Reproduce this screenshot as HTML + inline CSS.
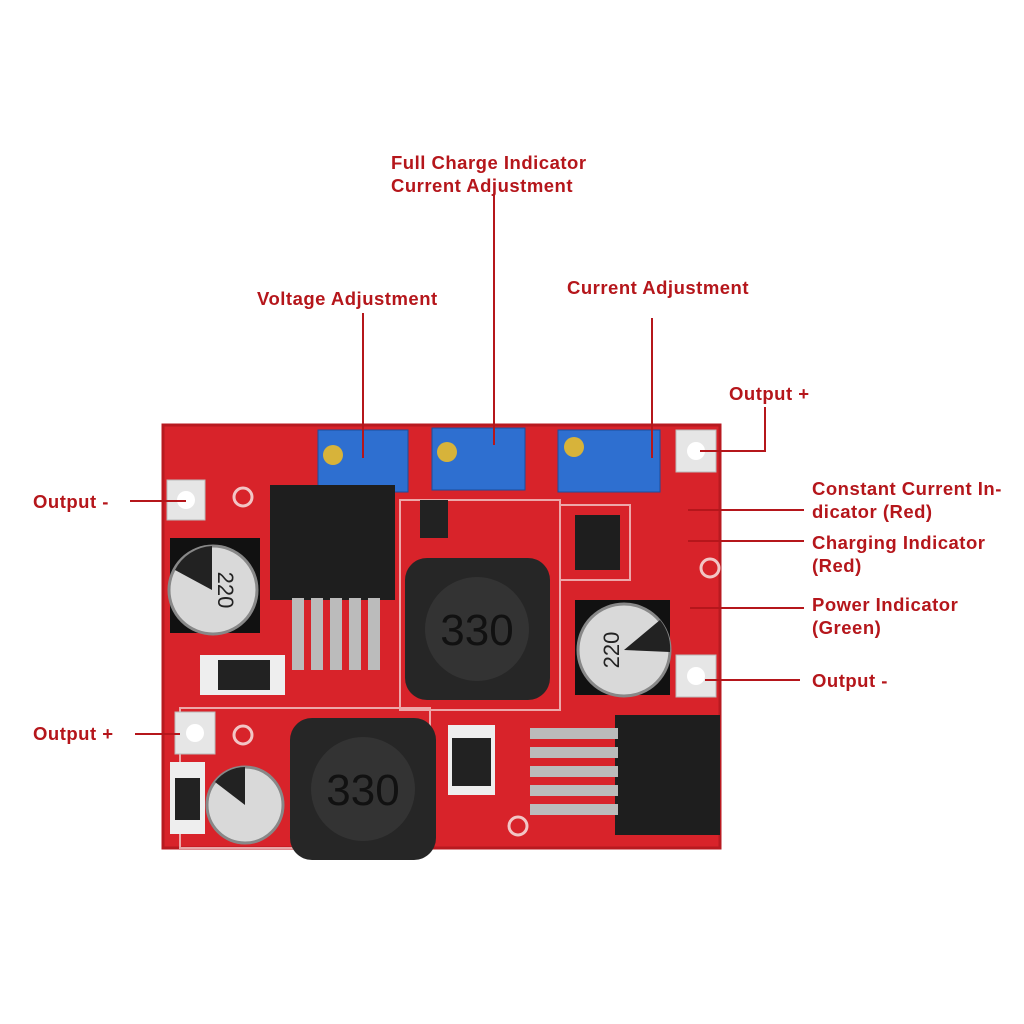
<!DOCTYPE html>
<html><head><style>
body{margin:0;width:1024px;height:1024px;background:#fff;position:relative;overflow:hidden;font-family:"Liberation Sans",sans-serif}
.l{position:absolute;color:#b5161b;font-weight:bold;font-size:18.5px;letter-spacing:0.5px;line-height:23px;white-space:nowrap}
.a{position:absolute}
</style></head><body>
<svg class="a" style="left:0;top:0" width="1024" height="1024">
<rect x="163" y="425" width="557" height="423" fill="#d8232a"/>
<rect x="163" y="425" width="557" height="423" fill="none" stroke="#b81a20" stroke-width="3"/>
<g stroke="#f3c9c9" stroke-width="2" fill="none" opacity="0.8">
<rect x="180" y="708" width="250" height="140"/>
<rect x="400" y="500" width="160" height="210"/>
<rect x="560" y="505" width="70" height="75"/>
</g>
<g fill="#e6e6e6" stroke="#bbb"><rect x="167" y="480" width="38" height="40"/><rect x="676" y="430" width="40" height="42"/><rect x="676" y="655" width="40" height="42"/><rect x="175" y="712" width="40" height="42"/></g>
<g fill="#fff"><circle cx="186" cy="500" r="9"/><circle cx="696" cy="451" r="9"/><circle cx="696" cy="676" r="9"/><circle cx="195" cy="733" r="9"/></g>
<g fill="none" stroke="#f2c5c5" stroke-width="3"><circle cx="243" cy="497" r="9"/><circle cx="710" cy="568" r="9"/><circle cx="518" cy="826" r="9"/><circle cx="243" cy="735" r="9"/></g>
<g fill="#2e6fd0" stroke="#1c4c9c"><rect x="318" y="430" width="90" height="62"/><rect x="432" y="428" width="93" height="62"/><rect x="558" y="430" width="102" height="62"/></g>
<g fill="#d7b33a"><circle cx="333" cy="455" r="10"/><circle cx="447" cy="452" r="10"/><circle cx="574" cy="447" r="10"/></g>
<rect x="270" y="485" width="125" height="115" fill="#1e1e1e"/>
<g fill="#bbb"><rect x="292" y="598" width="12" height="72"/><rect x="311" y="598" width="12" height="72"/><rect x="330" y="598" width="12" height="72"/><rect x="349" y="598" width="12" height="72"/><rect x="368" y="598" width="12" height="72"/></g>
<rect x="615" y="715" width="105" height="120" fill="#1e1e1e"/>
<g fill="#bbb"><rect x="530" y="728" width="88" height="11"/><rect x="530" y="747" width="88" height="11"/><rect x="530" y="766" width="88" height="11"/><rect x="530" y="785" width="88" height="11"/><rect x="530" y="804" width="88" height="11"/></g>
<rect x="405" y="558" width="145" height="142" rx="22" fill="#262626"/>
<circle cx="477" cy="629" r="52" fill="#333"/>
<text x="477" y="645" font-family="Liberation Sans" font-size="44" fill="#111" text-anchor="middle">330</text>
<rect x="290" y="718" width="146" height="142" rx="22" fill="#262626"/>
<circle cx="363" cy="789" r="52" fill="#333"/>
<text x="363" y="805" font-family="Liberation Sans" font-size="44" fill="#111" text-anchor="middle">330</text>
<rect x="170" y="538" width="90" height="95" fill="#111"/>
<circle cx="213" cy="590" r="44" fill="#d9d9d9" stroke="#888" stroke-width="3"/>
<path d="M175 570 A44 44 0 0 1 212 546 L212 590Z" fill="#222"/>
<rect x="575" y="600" width="95" height="95" fill="#111"/>
<circle cx="624" cy="650" r="46" fill="#d9d9d9" stroke="#888" stroke-width="3"/>
<path d="M660 620 A46 46 0 0 1 670 652 L624 650Z" fill="#222"/>
<circle cx="245" cy="805" r="38" fill="#d9d9d9" stroke="#888" stroke-width="3"/>
<path d="M215 782 A38 38 0 0 1 245 767 L245 805Z" fill="#222"/>
<g font-family="Liberation Sans" font-size="22" fill="#222" text-anchor="middle">
<text x="213" y="585" transform="rotate(90 213 590)">220</text>
<text x="624" y="645" transform="rotate(-90 624 650)">220</text>
</g>
<rect x="575" y="515" width="45" height="55" fill="#1e1e1e"/>
<rect x="200" y="655" width="85" height="40" fill="#eee"/><rect x="218" y="660" width="52" height="30" fill="#222"/>
<rect x="170" y="762" width="35" height="72" fill="#eee"/><rect x="175" y="778" width="25" height="42" fill="#222"/>
<rect x="448" y="725" width="47" height="70" fill="#eee"/><rect x="452" y="738" width="39" height="48" fill="#222"/>
<rect x="420" y="500" width="28" height="38" fill="#222"/>
<g stroke="#b5161b" stroke-width="2" fill="none">
<line x1="494" y1="195" x2="494" y2="445"/>
<line x1="363" y1="313" x2="363" y2="458"/>
<line x1="652" y1="318" x2="652" y2="458"/>
<polyline points="765,407 765,451 700,451"/>
<line x1="688" y1="510" x2="804" y2="510"/>
<line x1="688" y1="541" x2="804" y2="541"/>
<line x1="690" y1="608" x2="804" y2="608"/>
<line x1="705" y1="680" x2="800" y2="680"/>
<line x1="130" y1="501" x2="186" y2="501"/>
<line x1="135" y1="734" x2="180" y2="734"/>
</g>
</svg>
<div class="l" style="left:391px;top:151px">Full Charge Indicator<br>Current Adjustment</div>
<div class="l" style="left:257px;top:287px">Voltage Adjustment</div>
<div class="l" style="left:567px;top:276px">Current Adjustment</div>
<div class="l" style="left:729px;top:382px">Output +</div>
<div class="l" style="left:812px;top:477px">Constant Current In-<br>dicator (Red)</div>
<div class="l" style="left:812px;top:531px">Charging Indicator<br>(Red)</div>
<div class="l" style="left:812px;top:593px">Power Indicator<br>(Green)</div>
<div class="l" style="left:812px;top:669px">Output -</div>
<div class="l" style="left:33px;top:490px">Output -</div>
<div class="l" style="left:33px;top:722px">Output +</div>
</body></html>
